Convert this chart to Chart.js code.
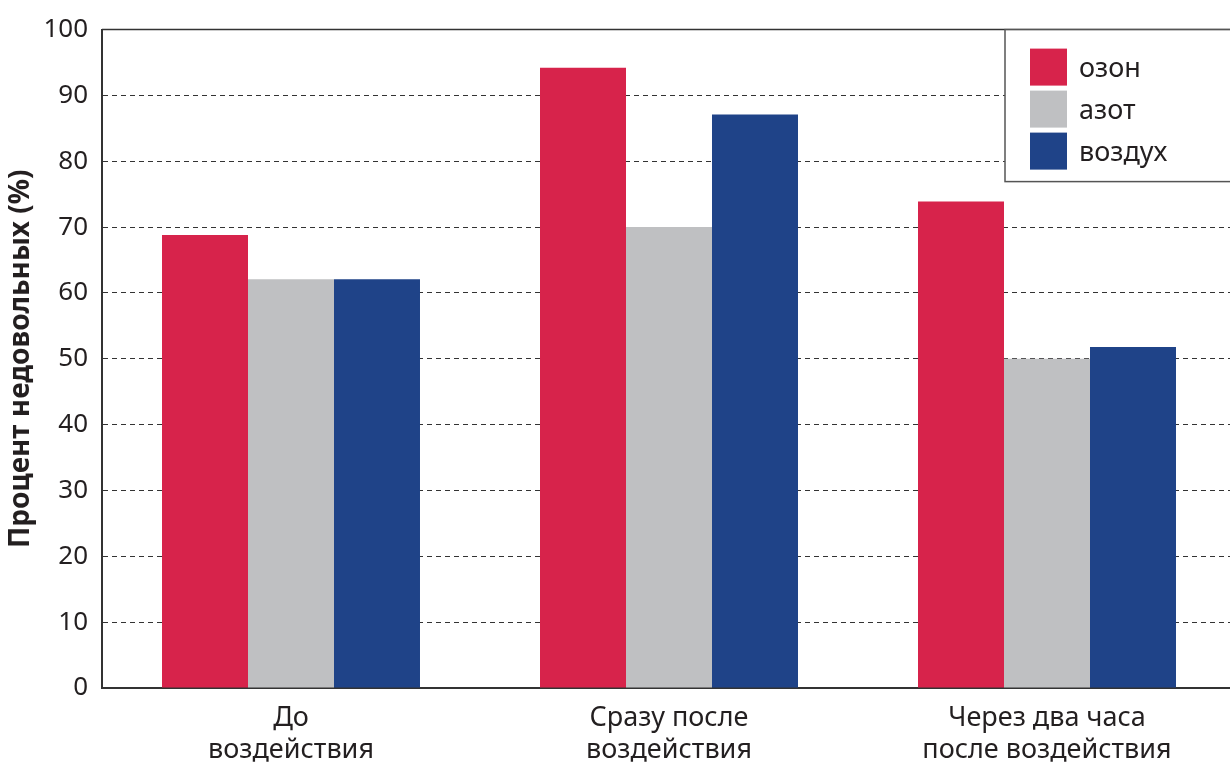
<!DOCTYPE html>
<html>
<head>
<meta charset="utf-8">
<script src="https://cdn.jsdelivr.net/npm/chart.js@4/dist/chart.umd.min.js"></script>
<style>
  html, body { margin: 0; padding: 0; background: #fff; overflow: hidden; }
  #wrap { width: 1236px; height: 769px; position: relative; }
</style>
</head>
<body>
<div id="wrap"><canvas id="chart"></canvas></div>
<script>
// categories and series
var categories = [
    ['До', 'воздействия'],
    ['Сразу после', 'воздействия'],
    ['Через два часа', 'после воздействия']
];
var ozone = [68.8, 94.2, 73.9];
var nitrogen = [62.1, 70.0, 50.0];
var air = [62.1, 87.1, 51.8];
var seriesNames = ['озон', 'азот', 'воздух'];
var seriesColors = ['#d7234b', '#bfc0c2', '#1f4388'];
var yTicks = [0, 10, 20, 30, 40, 50, 60, 70, 80, 90, 100];

var fontFamily = '"Noto Sans", "Open Sans", sans-serif';
var textColor = '#231f20';

// legend box in the top right corner + solid top border
var boxLegend = {
    id: 'boxLegend',
    afterDraw: function(chart){
        var ctx = chart.ctx;
        var area = chart.chartArea;
        ctx.save();
        // top border of plot (solid)
        ctx.strokeStyle = '#333';
        ctx.lineWidth = 1.5;
        ctx.beginPath();
        ctx.moveTo(area.left, area.top);
        ctx.lineTo(area.right, area.top);
        ctx.stroke();

        var bx = 1005, by = area.top, bw = 260, bh = 152;
        ctx.fillStyle = '#fff';
        ctx.fillRect(bx, by, bw, bh);
        ctx.strokeStyle = '#555';
        ctx.lineWidth = 1.5;
        ctx.strokeRect(bx, by, bw, bh);

        ctx.font = '27px ' + fontFamily;
        ctx.textBaseline = 'middle';
        chart.data.datasets.forEach(function(ds, i){
            var y = by + 19 + i * 42;
            ctx.fillStyle = ds.backgroundColor;
            ctx.fillRect(bx + 25, y, 37, 37);
            ctx.fillStyle = textColor;
            ctx.fillText(ds.label, bx + 74, y + 21);
        });
        ctx.restore();
    }
};

function drawChart(){
    var ctx = document.getElementById('chart');
    var config = {
        type: 'bar',
        data: {
            labels: categories,
            datasets: [
                { label: seriesNames[0], data: ozone, backgroundColor: seriesColors[0] },
                { label: seriesNames[1], data: nitrogen, backgroundColor: seriesColors[1] },
                { label: seriesNames[2], data: air, backgroundColor: seriesColors[2] }
            ]
        },
        options: {
            responsive: true,
            maintainAspectRatio: false,
            animation: false,
            layout: {
                padding: { top: 24, right: 0, left: 0, bottom: 0 }
            },
            datasets: {
                bar: {
                    categoryPercentage: 0.6825,
                    barPercentage: 1.0,
                    borderWidth: 0
                }
            },
            plugins: {
                legend: { display: false },
                tooltip: { enabled: false }
            },
            scales: {
                x: {
                    grid: { display: false, drawTicks: false },
                    border: { display: true, color: '#333', width: 2 },
                    ticks: {
                        color: textColor,
                        padding: 14,
                        maxRotation: 0,
                        font: { family: fontFamily, size: 27, lineHeight: 1.2 }
                    },
                    afterFit: function(scale){ scale.height = 81; }
                },
                y: {
                    min: 0,
                    max: 100,
                    afterBuildTicks: function(scale){
                        scale.ticks = yTicks.map(function(v){ return { value: v }; });
                    },
                    grid: {
                        drawTicks: false,
                        color: '#333',
                        lineWidth: 1
                    },
                    border: { display: true, color: '#333', width: 2, dash: [5, 4] },
                    ticks: {
                        color: textColor,
                        padding: 14,
                        font: { family: fontFamily, size: 26 }
                    },
                    title: {
                        display: true,
                        text: 'Процент недовольных (%)',
                        color: textColor,
                        padding: { top: 5, bottom: 4 },
                        font: { family: fontFamily, size: 28, weight: 'bold', lineHeight: 1.15 }
                    },
                    afterFit: function(scale){ scale.width = 102; }
                }
            }
        },
        plugins: [boxLegend]
    };
    new Chart(ctx, config);
}

drawChart();
</script>
</body>
</html>
